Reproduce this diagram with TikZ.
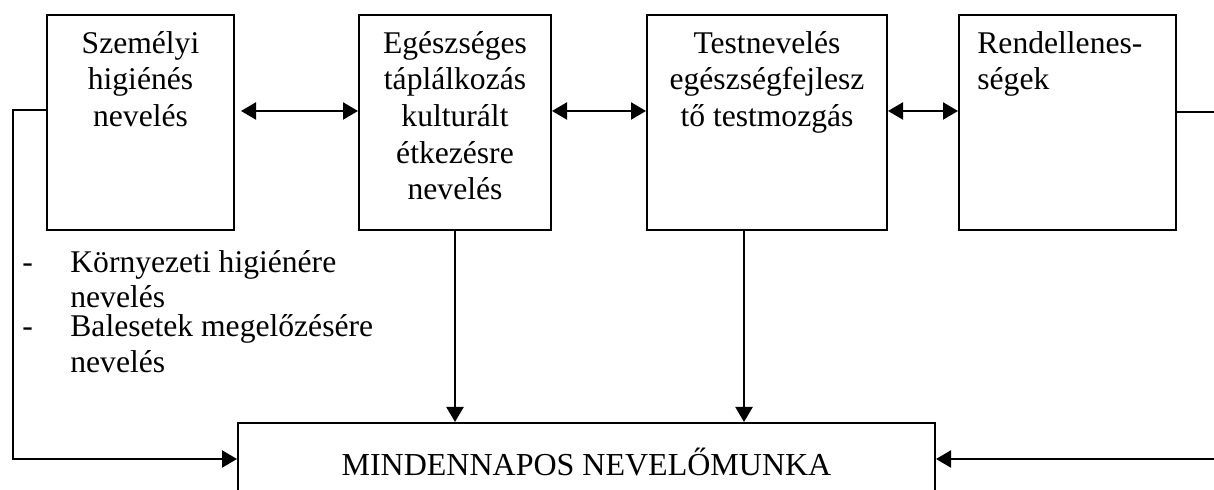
\documentclass[tikz,border=0pt]{standalone}
\usepackage{fontspec}
\setmainfont{Liberation Serif}
\usepackage{tikz}
\usetikzlibrary{
    arrows.meta,
    calc,
    positioning
}
\tikzset{doboz/.style={draw=black, line width=1pt, rectangle, inner sep=0pt, minimum height=107.5pt}}
\tikzset{felirat/.style={inner sep=0pt, align=center, font=\fontsize{15.8}{18.3}\selectfont}}
\tikzset{nyil/.style={line width=1.1pt, -{Triangle[length=7.5pt, width=8.5pt]}}}
\tikzset{kettos/.style={line width=1.1pt, {Triangle[length=7.5pt, width=8.5pt]}-{Triangle[length=7.5pt, width=8.5pt]}}}

\begin{document}
\begin{tikzpicture}[x=0.5pt, y=0.5pt]
                        \useasboundingbox (0, 0) rectangle (1214, 490);
                        \clip (0, 0) rectangle (1214, 490);

                        \node[doboz, minimum width=93.5pt] (szem) at (140.5, 367.5) {};
                        \node[doboz, minimum width=96pt] (egesz) at (455, 367.5) {};
                        \node[doboz, minimum width=120pt] (test) at (767, 367.5) {};
                        \node[doboz, minimum width=108.5pt] (rend) at (1067.5, 367.5) {};

                        \node[felirat, anchor=north] (szemtxt) at ([yshift=-8.5pt]szem.north) {Személyi\\higiénés\\nevelés};
                        \node[felirat, anchor=north] (egesztxt) at ([yshift=-8.5pt]egesz.north) {Egészséges\\táplálkozás\\kulturált\\étkezésre\\nevelés};
                        \node[felirat, anchor=north] (testtxt) at ([yshift=-8.5pt]test.north) {Testnevelés\\egészségfejlesz\\tő testmozgás};
                        \node[felirat, align=left, anchor=north west] (rendtxt) at ([xshift=9.5pt, yshift=-8.5pt]rend.north west) {Rendellenes-\\ségek};

                        \node[doboz, minimum width=348.5pt, minimum height=36pt, font=\fontsize{16}{18}\selectfont] (mind) at (586.5, 31) {\raisebox{0pt}[17pt][0pt]{MINDENNAPOS NEVELŐMUNKA}};

                        \node[felirat, anchor=base west] (k1) at (22, 217) {-};
                        \node[felirat, anchor=base west] (k2) at (70, 217) {Környezeti higiénére};
                        \node[felirat, anchor=base west] (k3) at (70, 182) {nevelés};
                        \node[felirat, anchor=base west] (b1) at (22, 153) {-};
                        \node[felirat, anchor=base west] (b2) at (70, 153) {Balesetek megelőzésére};
                        \node[felirat, anchor=base west] (b3) at (70, 117) {nevelés};

                        \draw[kettos] ([xshift=3pt, yshift=5.75pt]szem.east) -- ([yshift=5.75pt]egesz.west);
                        \draw[kettos] ([yshift=5.75pt]egesz.east) -- ([yshift=5.75pt]test.west);
                        \draw[kettos] ([yshift=5.75pt]test.east) -- ([yshift=5.75pt]rend.west);

                        \draw[nyil] (egesz.south) -- (egesz.south |- mind.north);
                        \draw[nyil] ([xshift=-11.5pt]test.south) -- ([xshift=-11.5pt]test.south |- mind.north);

                        \draw[nyil] ([yshift=6.25pt]szem.west) -- ++(-33, 0) |- (mind.west);
                        \draw[nyil] ([yshift=5.25pt]rend.east) -- ++(60, 0) |- (mind.east);
                    \end{tikzpicture}
\end{document}
